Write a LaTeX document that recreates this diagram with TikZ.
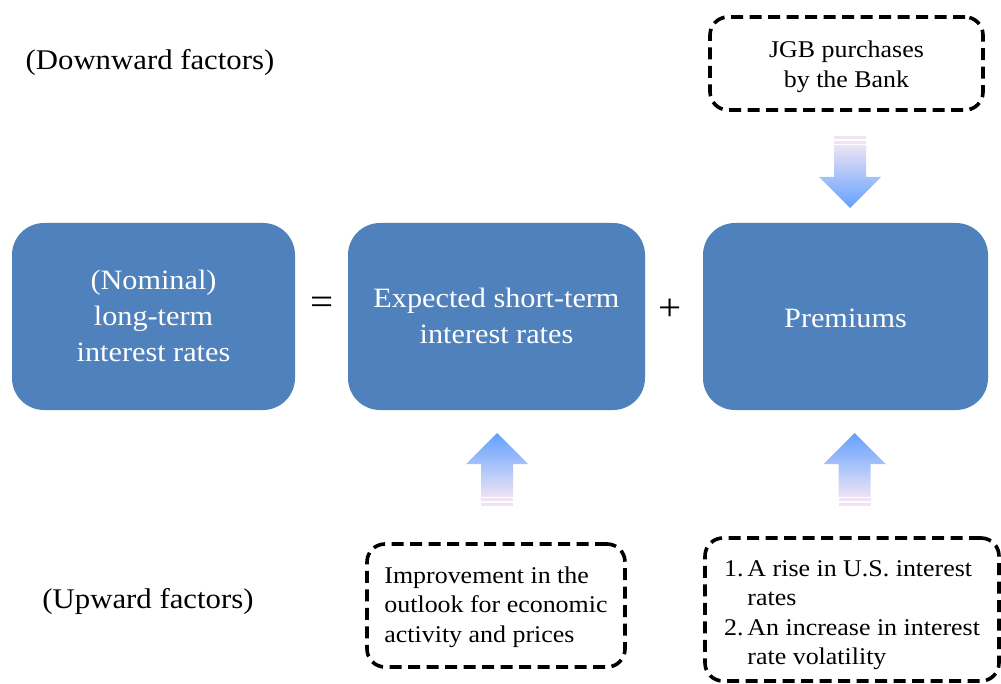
\documentclass[tikz,border=0pt]{standalone}
\usepackage{fontspec}
\setmainfont{Liberation Serif}[FakeStretch=1.08]
\definecolor{boxblue}{HTML}{4F81BD}
\definecolor{arrowtip}{HTML}{62A0FF}
\definecolor{arrowmid}{HTML}{A6C8F2}
\definecolor{arrowtail}{HTML}{ECE4F4}
\definecolor{stripecol}{HTML}{F1E3F4}
\newcommand{\lowerby}[2]{\raisebox{0pt}[\dimexpr\height+#1\relax][\depth]{#2}}
\tikzset{
  mainbox/.style={fill=boxblue, rounded corners=32pt, text=white, align=center,
    minimum height=187pt, inner sep=0pt, font=\fontsize{28}{36}\selectfont},
  dashbox/.style={draw=black, line width=3.6pt, dash pattern=on 12pt off 6.5pt,
    rounded corners=18pt, inner sep=0pt, font=\fontsize{24}{29.5}\selectfont},
  factorlabel/.style={inner sep=0pt, font=\fontsize{28.5}{34}\selectfont},
  opsign/.style={inner sep=0pt, font=\fontsize{38}{40}\selectfont},
  uparrow/.pic={
    \shade[top color=arrowtip, middle color=arrowmid, bottom color=arrowtail]
      (0,0) -- (31,31) -- (16,31) -- (16,64) -- (-16,64) -- (-16,31) -- (-31,31) -- cycle;
    \fill[stripecol] (-16,65) rectangle (16,67.5);
    \fill[stripecol] (-16,69.5) rectangle (16,72.5);
  },
  downarrow/.pic={
    \shade[bottom color=arrowtip, middle color=arrowmid, top color=arrowtail]
      (0,0) -- (31,-31) -- (16,-31) -- (16,-63) -- (-16,-63) -- (-16,-31) -- (-31,-31) -- cycle;
    \fill[stripecol] (-16,-64) rectangle (16,-66.5);
    \fill[stripecol] (-16,-68.5) rectangle (16,-71.5);
  }
}
\begin{document}
\begin{tikzpicture}[x=1pt,y=-1pt]
\useasboundingbox (0,0) rectangle (1001,684);
\clip (0,0) rectangle (1001,684);

% factor labels
\node[factorlabel] (downlbl) at (150,63) {(Downward factors)};
\node[factorlabel] (uplbl) at (148,601) {(Upward factors)};

% main boxes
\node[mainbox, minimum width=283pt] (longrate) at (153.5,316.5)
  {\lowerby{3pt}{\begin{tabular}{@{}c@{}}(Nominal)\\long-term\\interest rates\end{tabular}}};
\node[mainbox, minimum width=297pt] (expected) at (496.5,316.5)
  {\lowerby{3pt}{\begin{tabular}{@{}c@{}}Expected short-term\\interest rates\end{tabular}}};
\node[mainbox, minimum width=285pt] (premium) at (845.5,316.5) {\lowerby{3pt}{Premiums}};

\node[opsign] (eq) at (322,306) {=};
\node[opsign] (plus) at (670,310) {+};

% dashed boxes
\node[dashbox, minimum width=273pt, minimum height=93pt] (jgb) at (846.5,63.5)
  {\lowerby{6pt}{\begin{tabular}{@{}c@{}}JGB purchases\\by the Bank\end{tabular}}};
\node[dashbox, minimum width=258pt, minimum height=123pt] (outlook) at (496,605.5)
  {\lowerby{3pt}{\begin{tabular}{@{}l@{}}Improvement in the\\outlook for economic\\activity and prices\end{tabular}}};
\node[dashbox, minimum width=294pt, minimum height=143pt] (us) at (852,609.5)
  {\lowerby{10pt}{\begin{tabular}{@{}l@{\hspace{4pt}}l@{}}
   1.&A rise in U.S. interest\\
     &rates\\
   2.&An increase in interest\\
     &rate volatility
  \end{tabular}}};

% block arrows
\pic (arrdown) at (850,208) {downarrow};
\pic (arrup1) at (497,433) {uparrow};
\pic (arrup2) at (854.5,433) {uparrow};
\end{tikzpicture}
\end{document}
